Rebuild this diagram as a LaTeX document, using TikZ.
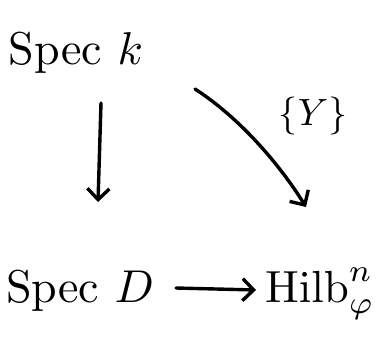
\documentclass[tikz,border=0pt]{standalone}
\usetikzlibrary{arrows.meta}
\begin{document}
\begin{tikzpicture}[x=1pt,y=-1pt,
  lbl/.style={inner sep=0pt},
  arr/.style={line width=3.4pt, line cap=round, -{Straight Barb[length=11pt,width=22pt,line width=3.4pt]}}]
\useasboundingbox (0,0) rectangle (390,338);
\node[lbl, anchor=base] (spk) at (76,64) {\scalebox{4.6}{Spec $k$}};
\node[lbl, anchor=base] (spD) at (80,302) {\scalebox{4.6}{Spec $D$}};
\node[lbl, anchor=base] (hilb) at (320,302) {\scalebox{4.5}{$\mathrm{Hilb}^{n}_{\varphi}$}};
\node[lbl] (Y) at (313,116) {\scalebox{3.8}{$\{Y\}$}};
\coordinate (v1) at (101,103);
\coordinate (v2) at (98,202);
\coordinate (d1) at (195,89);
\coordinate (d2) at (306,207);
\coordinate (h1) at (176,288);
\coordinate (h2) at (256,290);
\draw[arr] (v1) -- (v2);
\draw[arr] (d1) .. controls (240,118) and (280,165) .. (d2);
\draw[arr] (h1) -- (h2);
\end{tikzpicture}
\end{document}
